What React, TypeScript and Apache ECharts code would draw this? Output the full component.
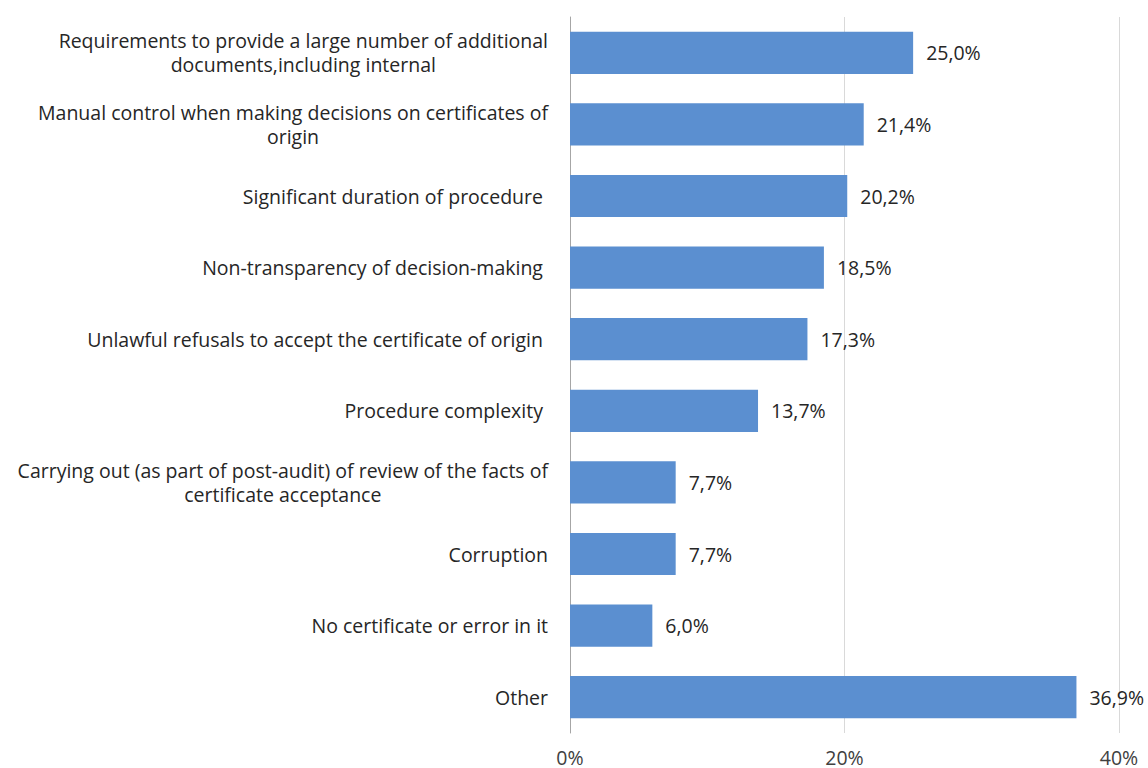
import React, { useEffect, useRef } from "react";
import * as echarts from "echarts";

const categories = [
  "Requirements to provide a large number of additional\ndocuments,including internal",
  "Manual control when making decisions on certificates of\norigin",
  "Significant duration of procedure ",
  "Non-transparency of decision-making ",
  "Unlawful refusals to accept the certificate of origin ",
  "Procedure complexity ",
  "Carrying out (as part of post-audit) of review of the facts of\ncertificate acceptance",
  "Corruption",
  "No certificate or error in it",
  "Other",
];
const values = [25.0, 21.4, 20.2, 18.5, 17.3, 13.7, 7.7, 7.7, 6.0, 36.9];
const xTicks = [0, 20, 40];

const FONT = "Open Sans";
const FS = 19.5;

export default function App() {
  const ref = useRef<HTMLDivElement>(null);
  useEffect(() => {
    if (!ref.current) return;
    const chart = echarts.init(ref.current, null, { renderer: "svg" });
    chart.setOption({
      animation: false,
      grid: { left: 570, right: 29, top: 17, bottom: 35, containLabel: false },
      xAxis: {
        type: "value",
        min: xTicks[0],
        max: xTicks[xTicks.length - 1],
        interval: 20,
        axisLine: { show: false },
        axisTick: { show: false },
        splitLine: { show: true, lineStyle: { color: "#d9d9d9", width: 1 } },
        axisLabel: {
          formatter: (v: number) => `${v}%`,
          fontFamily: FONT,
          fontSize: FS,
          color: "#404040",
          margin: 14,
        },
      },
      yAxis: {
        type: "category",
        inverse: true,
        data: categories,
        axisLine: { show: true, lineStyle: { color: "#a6a6a6", width: 1 } },
        axisTick: { show: false },
        axisLabel: {
          margin: 22,
          fontFamily: FONT,
          fontSize: FS,
          color: "#262626",
          lineHeight: 24,
          formatter: (v: string) =>
            v
              .split("\n")
              .map((l) => `{c|${l}}`)
              .join("\n"),
          rich: {
            c: { align: "center", fontFamily: FONT, fontSize: FS, color: "#262626", lineHeight: 24 },
          },
        },
      },
      series: [
        {
          type: "bar",
          data: values,
          barWidth: "59%",
          itemStyle: { color: "#5b8fd0" },
          label: {
            show: true,
            position: "right",
            distance: 13,
            fontFamily: FONT,
            fontSize: FS,
            color: "#262626",
            formatter: (p: any) => `${p.value.toFixed(1).replace(".", ",")}%`,
          },
        },
      ],
    });
    return () => chart.dispose();
  }, []);
  return (
    <div
      ref={ref}
      style={{ position: "absolute", left: 0, top: 0, width: 1148, height: 768, background: "#fff" }}
    />
  );
}
